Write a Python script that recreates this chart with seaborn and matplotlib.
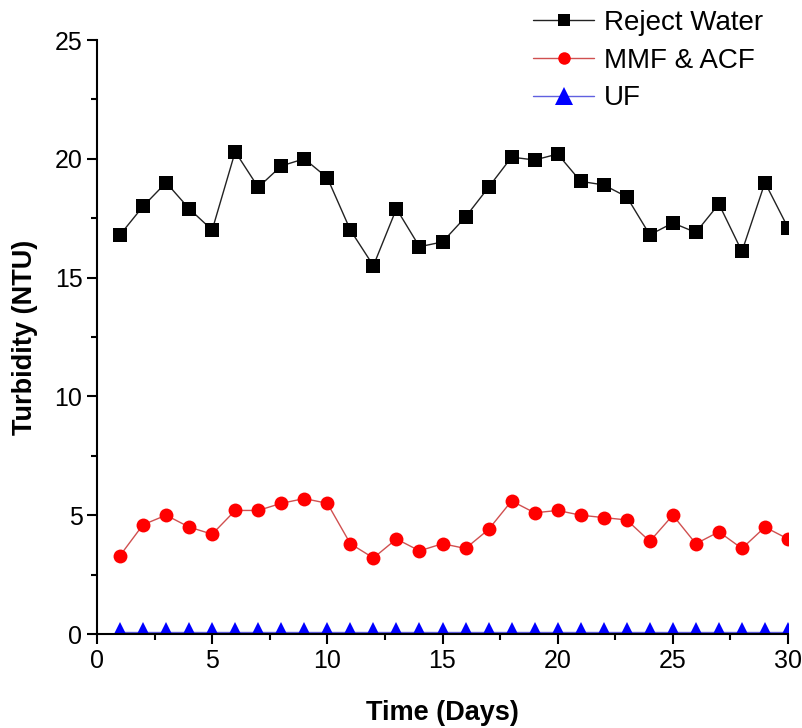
import numpy as np
import pandas as pd
import seaborn as sns
from matplotlib import pyplot as plt
from matplotlib.ticker import MultipleLocator

days = list(range(1, 31))
reject_water = [16.8, 18.0, 19.0, 17.9, 17.0, 20.3, 18.8, 19.7, 20.0, 19.2,
                17.0, 15.5, 17.9, 16.3, 16.5, 17.55, 18.8, 20.07, 19.95, 20.2,
                19.05, 18.9, 18.4, 16.8, 17.3, 16.9, 18.1, 16.1, 19.0, 17.1]
mmf_acf = [3.3, 4.6, 5.0, 4.5, 4.2, 5.2, 5.2, 5.5, 5.7, 5.5,
           3.8, 3.2, 4.0, 3.5, 3.8, 3.6, 4.4, 5.6, 5.1, 5.2,
           5.0, 4.9, 4.8, 3.9, 5.0, 3.8, 4.3, 3.6, 4.5, 4.0]
uf = [0.1] * 30

series_names = ['Reject Water', 'MMF & ACF', 'UF']

df = pd.concat([
    pd.DataFrame({'day': days, 'turbidity': vals, 'series': name})
    for name, vals in zip(series_names, [reject_water, mmf_acf, uf])
])

sns.set_style('ticks')
plt.rcParams['font.family'] = ['Liberation Sans', 'DejaVu Sans']
plt.rcParams['axes.edgecolor'] = 'black'
plt.rcParams['xtick.color'] = 'black'
plt.rcParams['ytick.color'] = 'black'
plt.rcParams['text.color'] = 'black'
plt.rcParams['axes.labelcolor'] = 'black'

fig = plt.figure(figsize=(8.02, 7.28), dpi=100)
ax = fig.add_axes([97 / 802, 94 / 728, 691 / 802, 594 / 728])

palette = {'Reject Water': 'black', 'MMF & ACF': 'red', 'UF': 'blue'}
markers = {'Reject Water': 's', 'MMF & ACF': 'o', 'UF': '^'}
line_colors = {'Reject Water': '#222222', 'MMF & ACF': '#d05050', 'UF': '#6060e0'}
msizes = {'Reject Water': 10, 'MMF & ACF': 10, 'UF': 14}

sns.lineplot(data=df, x='day', y='turbidity', hue='series', style='series',
             palette=palette, markers=markers, dashes=False, ax=ax,
             markersize=10, markeredgewidth=0, linewidth=1, legend=False)

for line, name in zip(ax.lines, series_names):
    line.set_color(line_colors[name])
    line.set_markerfacecolor(palette[name])
    line.set_markersize(msizes[name])

ax.set_xlim(0, 30)
ax.set_ylim(0, 25)
ax.xaxis.set_major_locator(MultipleLocator(5))
ax.xaxis.set_minor_locator(MultipleLocator(2.5))
ax.yaxis.set_major_locator(MultipleLocator(5))
ax.yaxis.set_minor_locator(MultipleLocator(2.5))
ax.tick_params(which='major', length=7, width=1.5, labelsize=18, direction='out')
ax.tick_params(which='minor', length=4, width=1.5, direction='out')
sns.despine(ax=ax)
for s in ['left', 'bottom']:
    ax.spines[s].set_linewidth(1.5)
    ax.spines[s].set_zorder(3)

ax.set_xlabel('Time (Days)', fontsize=19.5, fontweight='bold', labelpad=20)
ax.set_ylabel('Turbidity (NTU)', fontsize=19.5, fontweight='bold', labelpad=12)

handles = []
for name in series_names:
    h, = ax.plot([], [], color=line_colors[name], marker=markers[name],
                 markerfacecolor=palette[name], markeredgewidth=0,
                 markersize=msizes[name] - 1, linewidth=1)
    handles.append(h)
fig.legend(handles, series_names, loc='upper left',
           bbox_to_anchor=(508 / 802, 1 + 15 / 728), frameon=False,
           fontsize=20, handlelength=2.2, handletextpad=0.35, labelspacing=0.42)

fig.savefig('out.png', dpi=100)
